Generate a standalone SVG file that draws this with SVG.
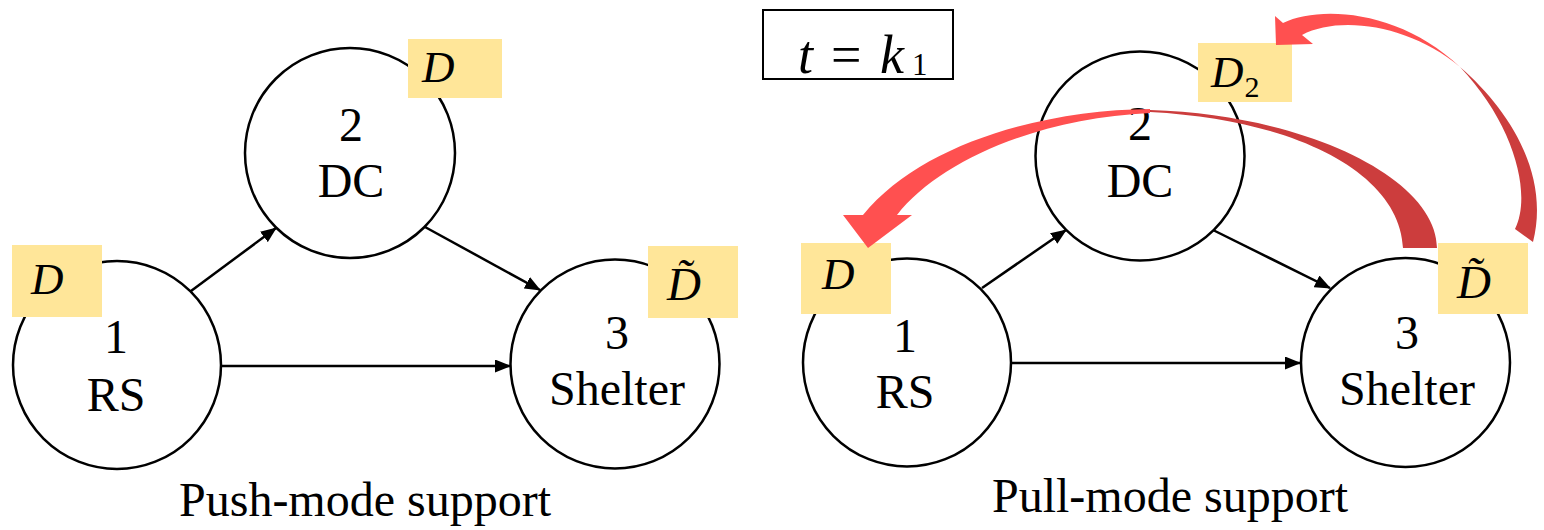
<svg xmlns="http://www.w3.org/2000/svg" width="1544" height="530" viewBox="0 0 1544 530">
<defs>
<style>
.node{fill:#fff;stroke:#000;stroke-width:2.5}
.t{font-family:"Liberation Serif","Times New Roman",serif;font-size:48px;fill:#000;text-anchor:middle}
.m{font-family:"Liberation Serif","Times New Roman",serif;font-style:italic;font-size:45px;fill:#000}
.lab{fill:#FFE699}
.edge{stroke:#000;stroke-width:2.5;fill:none;marker-end:url(#ah)}
.bright{fill:#FF5050}
.dark{fill:#CC3D3D}
</style>
<marker id="ah" markerUnits="userSpaceOnUse" viewBox="0 0 16 13" refX="15" refY="6.5" markerWidth="16" markerHeight="13" orient="auto">
<path d="M0,0 L16,6.5 L0,13 Z" fill="#000"/>
</marker>
</defs>
<rect width="1544" height="530" fill="#fff"/>

<!-- Connectors -->
<g id="connectors">
<line class="edge" x1="191" y1="291" x2="276" y2="228"/>
<line class="edge" x1="425" y1="227" x2="540" y2="290"/>
<line class="edge" x1="221" y1="366" x2="510" y2="366"/>
<line class="edge" x1="982" y1="288" x2="1066" y2="230"/>
<line class="edge" x1="1213" y1="230" x2="1330" y2="288"/>
<line class="edge" x1="1011" y1="363" x2="1300" y2="363"/>
</g>

<!-- Left graph nodes -->
<g id="L1"><circle class="node" cx="117" cy="365" r="104"/><text class="t" x="116" y="353">1</text><text class="t" x="116" y="411">RS</text></g>
<g id="L2"><circle class="node" cx="350" cy="153" r="105"/><text class="t" x="351" y="141">2</text><text class="t" x="351" y="197">DC</text></g>
<g id="L3"><circle class="node" cx="615" cy="364" r="104.5"/><text class="t" x="617" y="349">3</text><text class="t" x="617" y="405">Shelter</text></g>

<!-- Right graph nodes -->
<g id="R1"><circle class="node" cx="907" cy="362.5" r="104"/><text class="t" x="905" y="352">1</text><text class="t" x="905" y="408">RS</text></g>
<g id="R2"><circle class="node" cx="1140" cy="156" r="104.5"/><text class="t" x="1140" y="140">2</text><text class="t" x="1140" y="197">DC</text></g>
<g id="R3"><circle class="node" cx="1405.5" cy="362.5" r="104.5"/><text class="t" x="1407" y="349">3</text><text class="t" x="1407" y="405">Shelter</text></g>

<!-- Labels -->
<g id="labL2"><rect class="lab" x="408" y="39" width="94" height="59"/><text class="m" x="422" y="82">D</text></g>
<g id="labL1"><rect class="lab" x="12" y="245" width="90" height="72"/><text class="m" x="31" y="294">D</text></g>
<g id="labL3"><rect class="lab" x="648" y="246" width="90" height="72"/><text class="m" x="667" y="300" style="font-size:47px">D̃</text></g>
<g id="labR1"><rect class="lab" x="801" y="243" width="90" height="71"/><text class="m" x="822" y="289">D</text></g>
<g id="labR2"><rect class="lab" x="1198" y="43" width="94" height="59"/><text class="m" x="1211" y="87">D<tspan dx="1" dy="10" style="font-style:normal;font-size:30px">2</tspan></text></g>
<g id="labR3"><rect class="lab" x="1438" y="243" width="90" height="71"/><text class="m" x="1457" y="298" style="font-size:47px">D̃</text></g>

<!-- Red curved arrows -->
<g id="pull-arrows">
<path class="dark" d="M1150,110 C1310,115 1437,180 1437,248 L1403,248 C1400,175 1300,120 1150,112 Z"/>
<path class="bright" d="M1150,109 C1040,110 920,145 863,215 L843,215 L868,248 L912,215 L897,215 C940,160 1040,118 1150,113 Z"/>
<path class="dark" d="M1460,67 C1510,110 1550,175 1533,242 L1515,229 C1532,195 1515,125 1460,67 Z"/>
<path class="bright" d="M1460,67 C1400,10 1320,5 1283,23 L1275,16 L1276,45 L1313,44 L1302,35 C1340,15 1410,25 1460,67 Z"/>
</g>

<!-- Time box -->
<g id="timebox">
<rect x="763" y="10" width="190" height="69" fill="#fff" stroke="#000" stroke-width="2"/>
<text class="m" x="798" y="73" style="font-size:54px">t<tspan x="831" style="font-style:normal">=</tspan><tspan x="880">k</tspan><tspan x="912" dy="2" style="font-style:normal;font-size:31px">1</tspan></text>
</g>

<!-- Captions -->
<text class="t" x="365" y="516">Push-mode support</text>
<text class="t" x="1170" y="512">Pull-mode support</text>
</svg>
